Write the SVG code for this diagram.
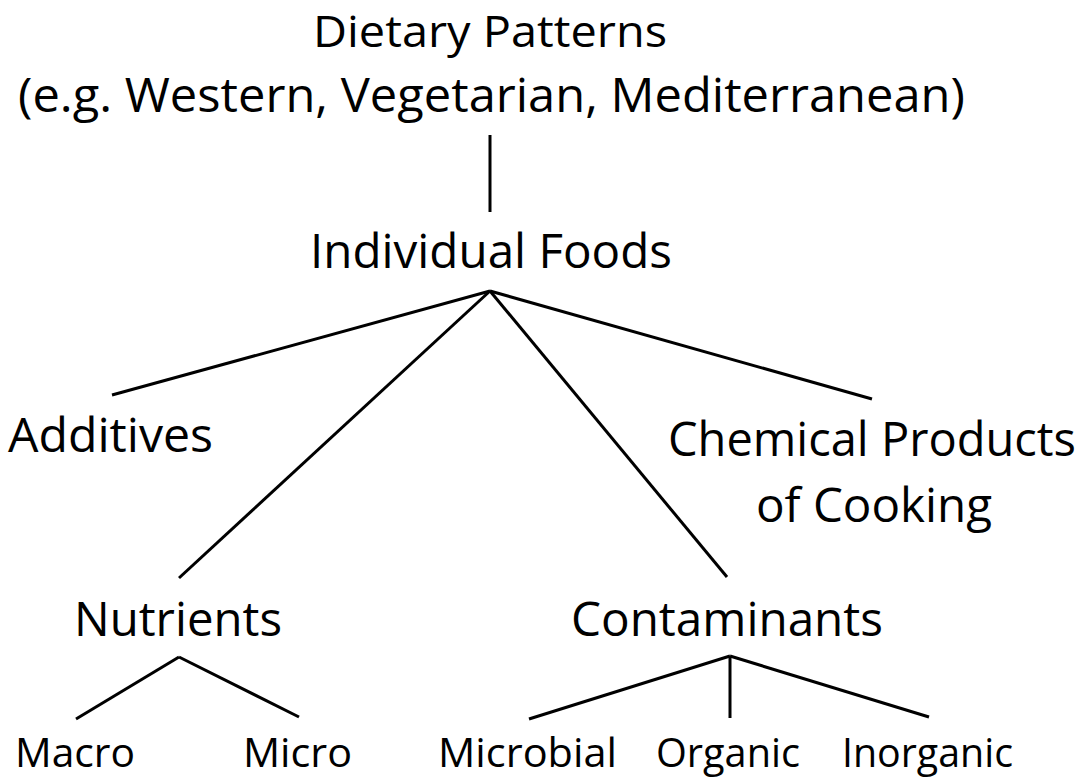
<svg xmlns="http://www.w3.org/2000/svg" width="1090" height="779" viewBox="0 0 1090 779">
<style>
text{font-family:"Open Sans","Liberation Sans",sans-serif;fill:#000}
.l{font-size:47px}
.t{font-size:44px}
.s{font-size:41px}
.c line{stroke:#000;stroke-width:3;stroke-linecap:butt}
</style>
<rect width="1090" height="779" fill="#fff"/>
<g class="c" id="connectors">
<line x1="490" y1="135" x2="490" y2="212" stroke-width="2.5"/>
<line x1="490" y1="291" x2="112" y2="395"/>
<line x1="490" y1="291" x2="179" y2="578" stroke-width="2.5"/>
<line x1="490" y1="291" x2="727" y2="577" stroke-width="2.5"/>
<line x1="490" y1="291" x2="872" y2="399"/>
<line x1="179" y1="657" x2="76" y2="719"/>
<line x1="179" y1="657" x2="299" y2="717"/>
<line x1="730" y1="656" x2="529" y2="719"/>
<line x1="730" y1="656" x2="730" y2="718" stroke-width="2.5"/>
<line x1="730" y1="656" x2="929" y2="717"/>
</g>
<g id="dietary">
<text class="t" x="313" y="47" textLength="354" lengthAdjust="spacingAndGlyphs">Dietary Patterns</text>
<text class="l" x="18" y="112" textLength="947" lengthAdjust="spacingAndGlyphs">(e.g. Western, Vegetarian, Mediterranean)</text>
</g>
<g id="foods"><text class="l" x="310" y="268" textLength="362" lengthAdjust="spacingAndGlyphs">Individual Foods</text></g>
<g id="additives"><text class="l" x="8" y="452" textLength="205" lengthAdjust="spacingAndGlyphs">Additives</text></g>
<g id="chemical">
<text class="l" x="668" y="456" textLength="408" lengthAdjust="spacingAndGlyphs">Chemical Products</text>
<text class="l" x="756" y="522" textLength="236" lengthAdjust="spacingAndGlyphs">of Cooking</text>
</g>
<g id="nutrients"><text class="l" x="74" y="636" textLength="208" lengthAdjust="spacingAndGlyphs">Nutrients</text></g>
<g id="contaminants"><text class="l" x="571" y="636" textLength="312" lengthAdjust="spacingAndGlyphs">Contaminants</text></g>
<g id="macro"><text class="s" x="15" y="767" textLength="120" lengthAdjust="spacingAndGlyphs">Macro</text></g>
<g id="micro"><text class="s" x="243" y="767" textLength="109" lengthAdjust="spacingAndGlyphs">Micro</text></g>
<g id="microbial"><text class="s" x="438" y="767" textLength="179" lengthAdjust="spacingAndGlyphs">Microbial</text></g>
<g id="organic"><text class="s" x="656" y="767" textLength="144" lengthAdjust="spacingAndGlyphs">Organic</text></g>
<g id="inorganic"><text class="s" x="842" y="767" textLength="171" lengthAdjust="spacingAndGlyphs">Inorganic</text></g>
</svg>
